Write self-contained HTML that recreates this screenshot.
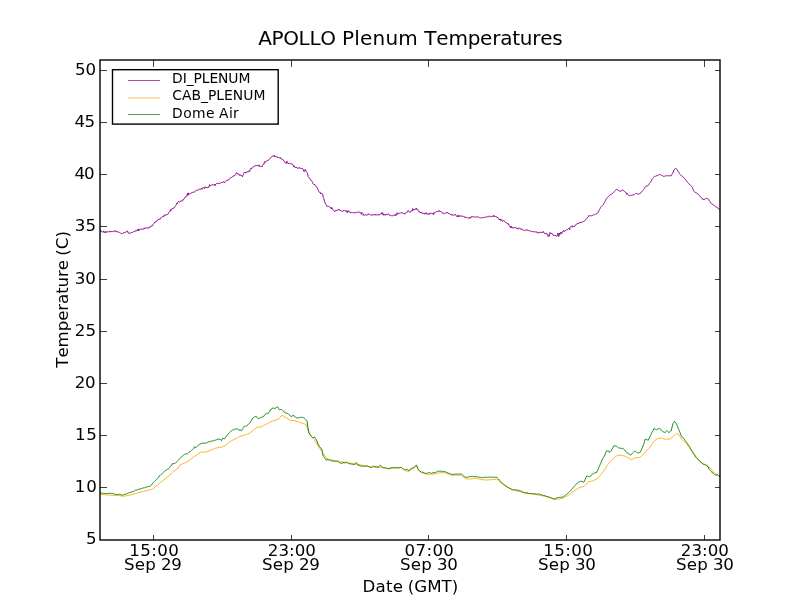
<!DOCTYPE html>
<html lang="en"><head><meta charset="utf-8"><title>APOLLO Plenum Temperatures</title>
<style>html,body{margin:0;padding:0;background:#fff;overflow:hidden}body{width:800px;height:600px}</style>
</head><body>
<svg width="800" height="600" viewBox="0 0 800 600" style="display:block">
<rect x="0" y="0" width="800" height="600" fill="#ffffff"/>
<defs><clipPath id="c"><rect x="100" y="60" width="620" height="480"/></clipPath></defs>
<g fill="none" stroke-linejoin="round" stroke-linecap="butt" clip-path="url(#c)">
<path d="M100.0 231.40 L100.4 231.40 L100.8 230.36 L101.2 231.40 L101.7 231.40 L102.1 231.92 L102.5 231.92 L102.9 232.44 L103.3 231.92 L103.8 230.88 L104.2 231.92 L104.6 232.44 L105.0 232.44 L105.4 232.96 L105.8 231.40 L106.2 232.44 L106.7 231.92 L107.1 231.40 L107.5 231.92 L107.9 231.92 L108.3 231.92 L108.8 231.92 L109.2 231.92 L109.6 231.40 L110.0 230.88 L110.4 231.92 L110.8 231.92 L111.2 231.92 L111.6 231.40 L112.0 231.92 L112.4 231.40 L112.8 231.40 L113.2 231.92 L113.6 231.92 L114.0 231.40 L114.4 230.88 L114.8 230.36 L115.2 231.40 L115.6 231.40 L116.0 231.40 L116.4 230.88 L116.8 231.92 L117.2 231.92 L117.6 231.92 L118.0 231.92 L118.4 231.92 L118.8 231.92 L119.2 232.44 L119.6 232.44 L120.0 232.96 L120.4 232.96 L120.9 233.48 L121.3 233.48 L121.7 233.48 L122.1 233.48 L122.5 232.96 L122.9 233.48 L123.3 232.96 L123.8 232.44 L124.2 232.96 L124.6 232.96 L125.0 232.44 L125.5 232.44 L125.9 231.92 L126.3 231.40 L126.7 231.40 L127.1 231.40 L127.5 230.88 L127.8 231.92 L128.2 232.96 L128.6 232.96 L129.0 233.48 L129.4 232.96 L129.8 232.96 L130.2 233.48 L130.6 232.96 L130.9 232.96 L131.3 232.44 L131.7 232.96 L132.1 232.44 L132.5 232.44 L132.9 232.44 L133.3 231.92 L133.8 231.40 L134.2 231.40 L134.6 231.92 L135.0 230.88 L135.4 230.88 L135.8 230.88 L136.2 230.88 L136.7 230.88 L137.1 229.84 L137.5 230.36 L137.9 230.36 L138.3 228.80 L138.7 230.88 L139.1 229.84 L139.5 229.84 L139.9 229.84 L140.3 229.32 L140.7 228.80 L141.0 229.32 L141.4 228.80 L141.8 229.32 L142.2 229.32 L142.6 229.32 L143.0 229.32 L143.4 229.32 L143.8 228.80 L144.2 227.76 L144.6 228.80 L145.0 228.28 L145.4 228.28 L145.8 228.28 L146.2 227.76 L146.6 227.76 L147.0 228.28 L147.4 227.76 L147.7 227.76 L148.1 227.76 L148.5 228.28 L148.9 227.24 L149.3 227.24 L149.7 226.72 L150.1 227.24 L150.5 227.24 L150.9 226.20 L151.3 225.68 L151.7 226.20 L152.1 225.68 L152.6 225.68 L153.0 224.64 L153.4 224.12 L153.8 223.60 L154.2 222.56 L154.6 222.56 L155.1 222.56 L155.5 222.04 L155.9 222.04 L156.3 221.00 L156.7 221.00 L157.1 221.00 L157.5 220.48 L158.0 219.44 L158.4 219.44 L158.8 218.92 L159.2 218.92 L159.6 219.44 L160.0 219.44 L160.4 218.92 L160.8 217.88 L161.3 217.36 L161.7 217.36 L162.1 216.84 L162.5 216.84 L162.9 216.32 L163.3 216.84 L163.7 216.84 L164.1 215.28 L164.5 215.80 L164.9 214.76 L165.3 214.76 L165.7 215.28 L166.0 215.28 L166.4 214.76 L166.8 214.24 L167.2 214.76 L167.6 214.24 L168.0 214.24 L168.4 213.72 L168.8 212.68 L169.2 212.16 L169.6 211.64 L170.0 211.64 L170.5 209.56 L170.9 210.60 L171.3 210.08 L171.7 209.56 L172.1 209.04 L172.5 208.00 L172.9 208.52 L173.3 208.00 L173.8 208.00 L174.2 208.00 L174.6 207.48 L175.0 206.44 L175.4 205.92 L175.8 205.40 L176.2 204.88 L176.6 203.32 L176.9 203.32 L177.3 203.84 L177.7 202.28 L178.1 201.76 L178.5 201.24 L178.9 201.76 L179.3 202.28 L179.7 201.76 L180.1 201.76 L180.5 201.76 L180.9 200.72 L181.4 200.72 L181.8 201.24 L182.2 200.72 L182.6 200.20 L183.0 199.68 L183.4 200.20 L183.8 199.16 L184.2 198.64 L184.6 197.60 L185.0 197.08 L185.4 197.08 L185.9 197.08 L186.3 196.04 L186.7 195.52 L187.1 195.00 L187.5 193.44 L187.9 195.52 L188.3 192.92 L188.7 194.48 L189.1 193.96 L189.5 193.96 L189.9 193.44 L190.3 193.44 L190.7 193.44 L191.0 192.92 L191.4 192.92 L191.8 192.92 L192.2 192.40 L192.6 192.40 L193.0 192.40 L193.4 191.88 L193.8 191.88 L194.2 192.40 L194.6 191.88 L195.0 191.36 L195.5 190.84 L195.9 190.32 L196.3 190.32 L196.7 190.32 L197.1 190.32 L197.5 189.80 L197.9 190.32 L198.3 189.80 L198.8 189.28 L199.2 189.28 L199.6 189.28 L200.0 189.28 L200.4 189.28 L200.8 188.76 L201.2 189.28 L201.6 188.24 L202.0 189.28 L202.4 188.24 L202.8 187.72 L203.2 187.72 L203.6 187.20 L204.0 187.72 L204.4 188.76 L204.8 187.72 L205.2 186.68 L205.6 187.20 L206.0 187.20 L206.4 187.72 L206.8 187.20 L207.2 187.72 L207.6 187.20 L208.0 187.72 L208.4 186.68 L208.8 187.20 L209.2 186.16 L209.6 184.60 L210.0 185.64 L210.4 185.64 L210.8 185.64 L211.2 185.12 L211.6 185.12 L212.0 185.12 L212.4 184.60 L212.8 184.60 L213.2 184.60 L213.6 185.12 L214.0 185.12 L214.4 185.12 L214.8 184.08 L215.2 185.64 L215.6 184.60 L216.0 184.08 L216.4 183.56 L216.8 183.56 L217.2 183.04 L217.6 183.04 L218.0 183.56 L218.4 183.56 L218.8 183.04 L219.2 183.56 L219.6 183.04 L220.0 183.04 L220.4 183.04 L220.8 183.04 L221.2 182.52 L221.6 182.52 L222.0 182.52 L222.4 182.52 L222.8 182.52 L223.2 182.00 L223.6 181.48 L224.0 182.52 L224.5 182.52 L225.0 182.52 L225.4 181.48 L225.8 180.96 L226.2 180.44 L226.7 180.44 L227.1 180.44 L227.5 179.92 L227.9 180.44 L228.3 179.40 L228.8 179.40 L229.2 179.40 L229.6 178.88 L230.0 178.36 L230.4 177.84 L230.8 177.84 L231.1 177.84 L231.5 177.32 L231.9 177.32 L232.3 176.80 L232.7 176.28 L233.0 176.28 L233.4 176.28 L233.8 176.28 L234.2 175.24 L234.6 175.76 L235.0 175.24 L235.3 174.72 L235.7 174.20 L236.1 173.68 L236.5 172.64 L236.9 173.16 L237.3 173.68 L237.7 173.16 L238.0 174.20 L238.4 174.20 L238.8 174.20 L239.2 174.72 L239.6 174.72 L240.0 175.76 L240.4 174.72 L240.9 175.24 L241.3 175.24 L241.7 175.76 L242.1 176.28 L242.5 176.80 L242.9 175.24 L243.3 174.72 L243.6 173.68 L244.0 173.16 L244.4 172.12 L244.8 172.64 L245.2 172.12 L245.6 172.12 L246.0 173.16 L246.4 172.64 L246.8 172.12 L247.2 171.60 L247.6 172.12 L248.0 172.12 L248.4 171.08 L248.8 171.08 L249.2 171.08 L249.6 171.60 L250.0 170.04 L250.4 169.00 L250.8 168.48 L251.2 169.00 L251.6 168.48 L252.0 168.48 L252.4 167.44 L252.8 166.92 L253.2 166.92 L253.6 166.92 L254.0 166.40 L254.4 165.88 L254.8 165.88 L255.2 165.88 L255.6 165.88 L255.9 165.36 L256.3 165.36 L256.7 165.88 L257.1 165.36 L257.5 165.88 L257.9 165.88 L258.3 165.88 L258.8 165.88 L259.2 164.84 L259.6 166.40 L260.0 166.40 L260.4 166.40 L260.8 166.40 L261.2 166.40 L261.7 166.40 L262.1 166.92 L262.5 165.36 L262.9 164.84 L263.3 164.32 L263.8 164.32 L264.2 162.76 L264.6 163.28 L265.0 161.20 L265.4 161.72 L265.8 161.72 L266.1 161.20 L266.5 161.20 L266.9 160.68 L267.3 160.68 L267.7 160.16 L268.0 160.16 L268.4 160.16 L268.8 160.16 L269.2 159.64 L269.6 159.12 L270.0 158.60 L270.4 158.08 L270.7 157.56 L271.1 157.56 L271.5 157.04 L271.9 156.52 L272.3 156.00 L272.7 156.00 L273.1 156.00 L273.6 156.00 L274.0 156.00 L274.4 155.48 L274.8 157.04 L275.2 156.52 L275.5 157.04 L275.9 156.52 L276.3 157.04 L276.7 157.04 L277.1 157.04 L277.6 157.04 L278.0 157.04 L278.4 157.56 L278.8 157.56 L279.2 158.08 L279.6 158.08 L280.0 157.56 L280.4 158.60 L280.7 158.08 L281.1 158.08 L281.5 158.60 L281.9 159.12 L282.3 159.64 L282.7 159.12 L283.1 160.16 L283.5 160.68 L284.0 160.68 L284.4 161.20 L284.8 162.24 L285.2 162.76 L285.6 163.28 L286.0 163.28 L286.4 163.28 L286.9 161.20 L287.3 162.76 L287.7 163.28 L288.1 163.28 L288.5 163.80 L288.9 163.28 L289.3 163.28 L289.7 163.28 L290.1 163.28 L290.5 163.80 L290.9 163.80 L291.3 163.80 L291.7 163.80 L292.1 163.80 L292.5 164.84 L292.9 164.84 L293.4 165.36 L293.8 166.92 L294.2 165.88 L294.6 166.92 L295.0 167.44 L295.4 167.96 L295.8 167.44 L296.1 167.96 L296.5 167.44 L296.9 167.96 L297.3 167.96 L297.7 167.96 L298.0 168.48 L298.4 167.96 L298.8 167.96 L299.2 167.44 L299.6 167.44 L300.0 168.48 L300.4 169.00 L300.9 168.48 L301.3 168.48 L301.7 168.48 L302.1 168.48 L302.5 168.48 L302.9 169.52 L303.3 169.52 L303.6 170.04 L304.0 171.60 L304.4 170.04 L304.8 170.04 L305.2 170.56 L305.5 169.52 L305.9 170.56 L306.3 171.60 L306.7 172.12 L307.1 172.64 L307.6 173.68 L308.0 176.28 L308.4 176.80 L308.8 177.32 L309.2 177.84 L309.6 178.36 L310.1 178.88 L310.5 179.92 L310.9 180.44 L311.3 180.44 L311.7 180.96 L312.1 181.48 L312.5 182.52 L312.9 183.56 L313.4 184.08 L313.8 184.08 L314.2 184.60 L314.6 184.08 L315.0 185.12 L315.4 185.64 L315.8 186.16 L316.2 186.68 L316.7 186.68 L317.1 187.72 L317.5 188.24 L317.9 189.28 L318.3 190.32 L318.8 191.36 L319.2 191.88 L319.6 192.40 L320.0 191.88 L320.4 192.92 L320.8 193.96 L321.2 193.44 L321.7 193.44 L322.1 193.96 L322.5 193.96 L322.9 195.00 L323.3 197.60 L323.8 198.64 L324.2 200.20 L324.6 201.24 L325.0 202.80 L325.5 203.84 L325.9 204.36 L326.4 205.40 L326.9 206.44 L327.3 206.44 L327.7 205.92 L328.1 205.92 L328.5 206.44 L328.9 206.44 L329.3 206.96 L329.7 206.96 L330.1 207.48 L330.5 207.48 L330.9 207.48 L331.3 209.04 L331.7 207.48 L332.1 208.52 L332.5 208.52 L332.9 209.56 L333.4 210.08 L333.8 210.60 L334.2 211.12 L334.6 211.64 L335.0 211.64 L335.4 210.60 L335.8 210.08 L336.1 210.60 L336.5 210.60 L336.9 210.08 L337.3 210.60 L337.7 210.08 L338.0 209.56 L338.4 210.08 L338.8 209.56 L339.2 209.04 L339.6 210.08 L340.0 210.60 L340.4 210.60 L340.9 210.60 L341.3 211.12 L341.7 211.12 L342.1 211.12 L342.5 211.12 L342.9 211.12 L343.3 211.12 L343.6 210.60 L344.0 210.60 L344.4 211.12 L344.8 210.60 L345.2 211.12 L345.5 211.12 L345.9 210.60 L346.3 210.60 L346.7 210.60 L347.1 212.68 L347.6 211.12 L348.0 211.12 L348.4 211.64 L348.8 210.60 L349.2 211.64 L349.6 212.16 L350.1 212.16 L350.5 213.20 L350.9 212.68 L351.3 212.16 L351.7 212.16 L352.1 212.68 L352.6 212.16 L353.0 212.68 L353.4 212.68 L353.8 213.20 L354.2 212.68 L354.6 212.68 L355.1 212.68 L355.5 212.16 L355.9 212.68 L356.3 212.68 L356.7 212.68 L357.1 212.16 L357.6 212.16 L358.0 212.16 L358.4 212.16 L358.8 211.64 L359.2 212.16 L359.6 212.68 L360.1 212.68 L360.5 212.68 L360.9 212.68 L361.3 214.24 L361.7 212.68 L362.1 212.68 L362.5 213.20 L362.9 213.72 L363.3 215.28 L363.6 214.76 L364.0 215.28 L364.4 215.28 L364.8 214.76 L365.2 214.76 L365.6 214.76 L366.0 214.76 L366.4 215.28 L366.8 215.28 L367.2 214.76 L367.6 214.76 L368.0 214.76 L368.4 213.72 L368.8 214.24 L369.2 214.24 L369.6 214.24 L370.0 214.76 L370.4 214.76 L370.8 214.76 L371.2 215.28 L371.6 215.28 L372.0 214.76 L372.4 214.76 L372.8 214.76 L373.1 215.28 L373.5 214.76 L373.9 214.24 L374.3 214.76 L374.7 214.76 L375.1 214.76 L375.5 214.24 L375.9 215.28 L376.3 214.76 L376.7 214.76 L377.1 214.76 L377.6 214.76 L378.0 214.76 L378.4 214.76 L378.8 214.24 L379.2 215.28 L379.6 214.76 L380.1 214.24 L380.5 213.72 L380.9 213.72 L381.3 213.72 L381.7 212.68 L382.1 214.24 L382.6 212.68 L383.0 214.76 L383.4 214.24 L383.8 215.28 L384.2 215.28 L384.6 214.76 L385.1 214.24 L385.5 215.28 L385.9 214.24 L386.3 214.24 L386.7 214.24 L387.1 214.76 L387.6 214.76 L388.0 214.76 L388.4 213.72 L388.8 214.24 L389.2 214.76 L389.6 215.28 L390.1 215.80 L390.5 215.28 L390.9 215.28 L391.3 215.80 L391.7 215.80 L392.1 215.80 L392.6 215.80 L393.0 215.80 L393.4 215.28 L393.8 215.28 L394.2 215.28 L394.6 215.28 L395.1 214.24 L395.5 215.80 L395.9 215.28 L396.3 215.28 L396.7 214.24 L397.1 212.68 L397.6 214.24 L398.0 213.72 L398.4 213.72 L398.8 213.72 L399.2 213.20 L399.6 213.20 L400.1 213.20 L400.5 213.20 L400.9 212.68 L401.3 212.68 L401.7 212.68 L402.1 212.68 L402.5 212.68 L402.9 213.20 L403.4 213.72 L403.8 213.20 L404.2 213.72 L404.6 214.24 L405.0 213.20 L405.4 213.20 L405.8 213.20 L406.2 213.20 L406.7 212.68 L407.1 212.16 L407.5 211.12 L407.9 211.12 L408.3 210.60 L408.8 211.64 L409.2 212.16 L409.6 212.16 L410.0 212.16 L410.4 212.16 L410.8 211.12 L411.2 211.12 L411.7 210.60 L412.1 211.12 L412.5 210.08 L412.9 208.52 L413.3 210.08 L413.8 210.08 L414.2 210.08 L414.6 209.56 L415.0 209.56 L415.4 209.56 L415.8 209.04 L416.2 208.00 L416.7 209.56 L417.1 209.56 L417.5 209.56 L417.9 209.56 L418.3 211.12 L418.8 211.64 L419.2 212.16 L419.6 211.64 L420.0 212.68 L420.4 212.16 L420.8 212.68 L421.1 212.16 L421.5 212.68 L421.9 212.68 L422.3 213.72 L422.7 213.20 L423.0 213.20 L423.4 213.20 L423.8 213.20 L424.2 213.20 L424.6 214.24 L425.0 213.20 L425.4 213.20 L425.8 213.20 L426.1 212.68 L426.5 214.24 L426.9 213.72 L427.3 213.72 L427.7 214.24 L428.1 214.24 L428.5 214.24 L428.9 214.24 L429.3 213.20 L429.7 214.24 L430.1 213.20 L430.5 213.72 L430.9 213.20 L431.3 213.20 L431.7 213.20 L432.1 213.72 L432.5 213.72 L432.9 213.20 L433.3 214.24 L433.6 214.76 L434.0 212.68 L434.4 213.20 L434.8 212.68 L435.2 212.16 L435.5 212.16 L435.9 212.16 L436.3 211.64 L436.7 211.64 L437.1 211.12 L437.5 211.64 L437.9 211.12 L438.4 211.64 L438.8 210.60 L439.2 211.12 L439.6 211.12 L440.0 211.12 L440.4 211.64 L440.8 211.12 L441.2 211.64 L441.6 212.16 L441.9 212.16 L442.3 213.20 L442.7 213.20 L443.1 213.72 L443.5 213.72 L443.9 213.20 L444.4 213.20 L444.8 213.20 L445.2 213.20 L445.6 213.20 L446.0 212.68 L446.4 212.68 L446.9 213.20 L447.3 212.16 L447.7 212.68 L448.1 213.20 L448.5 213.20 L448.9 213.72 L449.3 213.20 L449.7 213.72 L450.1 214.24 L450.5 214.76 L450.9 214.24 L451.3 214.24 L451.7 215.28 L452.1 214.76 L452.6 214.76 L453.0 215.28 L453.4 215.28 L453.8 215.28 L454.2 214.76 L454.6 214.76 L455.1 214.76 L455.5 214.24 L455.9 215.28 L456.3 215.80 L456.7 216.32 L457.1 215.80 L457.6 216.84 L458.0 215.28 L458.4 215.28 L458.8 216.84 L459.2 215.80 L459.6 215.80 L460.1 215.80 L460.5 215.80 L460.9 216.32 L461.3 215.80 L461.7 216.32 L462.1 215.80 L462.5 216.32 L462.9 216.32 L463.4 216.32 L463.8 216.84 L464.2 216.84 L464.6 216.84 L465.0 217.88 L465.4 217.36 L465.8 216.84 L466.2 217.36 L466.6 217.36 L467.0 217.88 L467.4 217.88 L467.8 217.88 L468.2 217.88 L468.6 217.88 L469.0 218.40 L469.4 217.88 L469.8 217.36 L470.2 218.40 L470.6 217.36 L471.0 217.36 L471.4 217.36 L471.8 216.32 L472.2 216.84 L472.6 216.84 L473.0 216.84 L473.4 216.84 L473.8 216.84 L474.2 216.84 L474.6 216.84 L475.1 216.84 L475.5 217.36 L475.9 216.84 L476.3 216.84 L476.7 216.84 L477.1 216.84 L477.6 216.84 L478.0 216.84 L478.4 216.84 L478.8 217.36 L479.2 217.36 L479.6 217.88 L480.1 217.88 L480.5 217.88 L480.9 217.88 L481.3 217.88 L481.7 217.88 L482.1 217.36 L482.6 217.88 L483.0 217.88 L483.4 217.36 L483.8 217.36 L484.2 217.88 L484.6 217.36 L485.0 216.84 L485.4 216.84 L485.8 217.36 L486.1 217.36 L486.5 217.36 L486.9 216.84 L487.3 216.32 L487.7 216.32 L488.1 216.84 L488.5 216.84 L488.9 216.32 L489.3 215.80 L489.7 216.32 L490.1 216.84 L490.5 216.84 L490.9 216.32 L491.3 216.84 L491.8 216.84 L492.2 216.32 L492.6 216.32 L493.0 215.80 L493.4 216.32 L493.8 215.28 L494.2 216.84 L494.6 216.32 L495.0 216.84 L495.4 216.32 L495.8 216.32 L496.2 216.84 L496.6 216.84 L496.9 216.84 L497.3 217.88 L497.7 217.36 L498.1 217.88 L498.5 218.40 L498.9 219.44 L499.3 219.44 L499.7 219.96 L500.1 218.92 L500.5 220.48 L500.9 219.44 L501.3 219.44 L501.7 220.48 L502.1 220.48 L502.5 221.52 L502.9 221.00 L503.3 221.00 L503.8 220.48 L504.2 221.00 L504.6 221.52 L505.0 222.04 L505.4 222.56 L505.8 222.56 L506.2 222.56 L506.7 223.08 L507.1 223.08 L507.5 223.60 L507.9 223.08 L508.3 224.64 L508.7 224.64 L509.1 224.64 L509.4 225.68 L509.8 226.20 L510.2 227.24 L510.6 227.76 L511.0 226.20 L511.4 227.76 L511.8 226.72 L512.2 227.76 L512.6 227.76 L513.0 228.28 L513.4 227.76 L513.8 227.76 L514.2 227.76 L514.6 227.76 L515.0 227.24 L515.4 227.76 L515.8 227.76 L516.2 228.28 L516.7 228.28 L517.1 227.76 L517.5 228.80 L517.9 228.80 L518.3 229.32 L518.8 228.80 L519.2 228.28 L519.6 227.76 L520.0 228.80 L520.4 228.80 L520.8 229.32 L521.3 229.32 L521.7 228.80 L522.1 229.32 L522.5 229.84 L523.0 229.84 L523.4 229.84 L523.8 230.36 L524.2 230.36 L524.6 230.36 L525.0 230.36 L525.5 230.36 L525.9 230.36 L526.3 229.84 L526.7 229.32 L527.1 230.36 L527.5 230.36 L528.0 230.36 L528.4 230.36 L528.8 230.88 L529.2 230.88 L529.6 230.88 L530.0 230.88 L530.5 230.88 L530.9 230.88 L531.3 231.40 L531.7 231.40 L532.1 231.92 L532.5 231.40 L533.0 231.92 L533.4 231.92 L533.8 231.92 L534.2 231.92 L534.6 231.40 L535.0 231.40 L535.5 231.92 L535.9 232.44 L536.3 231.92 L536.7 231.92 L537.1 231.92 L537.5 232.96 L538.0 232.96 L538.4 232.96 L538.8 232.96 L539.2 232.96 L539.6 231.92 L540.0 232.44 L540.4 232.44 L540.9 231.92 L541.3 232.44 L541.7 232.44 L542.1 232.96 L542.5 232.44 L542.9 232.44 L543.3 231.40 L543.8 232.44 L544.2 232.96 L544.6 233.48 L545.0 234.00 L545.5 233.48 L545.9 232.96 L546.3 232.96 L546.7 233.48 L547.0 234.00 L547.4 235.04 L547.8 234.52 L548.2 236.60 L548.5 235.56 L548.9 236.08 L549.3 236.08 L549.6 234.52 L550.0 232.44 L550.4 233.48 L550.8 233.48 L551.3 233.48 L551.7 232.96 L552.1 234.00 L552.5 234.52 L553.0 234.52 L553.4 235.56 L553.8 235.04 L554.2 235.56 L554.6 235.56 L554.9 235.56 L555.3 235.56 L555.7 235.56 L556.1 236.08 L556.4 236.08 L556.8 236.08 L557.2 236.08 L557.6 234.52 L558.0 232.96 L558.4 235.56 L558.8 236.60 L559.1 235.04 L559.5 232.96 L559.9 234.52 L560.2 232.96 L560.6 232.44 L561.0 233.48 L561.4 232.44 L561.8 233.48 L562.1 231.92 L562.5 231.92 L562.9 231.40 L563.3 231.40 L563.8 230.36 L564.2 231.40 L564.6 231.40 L565.0 230.88 L565.4 230.88 L565.8 230.36 L566.2 229.84 L566.7 229.84 L567.1 229.84 L567.5 229.32 L567.9 229.32 L568.3 228.80 L568.8 228.28 L569.2 228.28 L569.6 229.84 L570.0 227.76 L570.5 226.72 L570.9 226.72 L571.3 226.72 L571.7 226.20 L572.1 225.68 L572.5 227.24 L573.0 226.72 L573.4 226.20 L573.8 226.20 L574.2 226.20 L574.6 226.72 L575.0 225.68 L575.5 225.16 L575.9 225.16 L576.3 224.12 L576.7 224.12 L577.1 223.60 L577.5 223.60 L578.0 223.08 L578.4 223.60 L578.8 223.08 L579.2 223.08 L579.6 222.56 L580.0 222.56 L580.5 223.08 L580.9 222.04 L581.3 222.04 L581.7 222.56 L582.1 222.04 L582.5 221.52 L582.9 221.52 L583.4 221.52 L583.8 221.52 L584.2 221.00 L584.6 221.00 L585.0 220.48 L585.4 219.96 L585.8 219.44 L586.3 218.92 L586.7 218.40 L587.1 218.40 L587.5 217.36 L588.0 216.84 L588.4 216.84 L588.8 215.80 L589.0 215.28 L589.5 215.80 L590.0 215.80 L590.4 215.80 L590.8 215.80 L591.3 215.80 L591.7 215.80 L592.1 215.80 L592.5 215.28 L593.0 215.28 L593.4 214.76 L593.8 214.76 L594.2 214.76 L594.6 214.76 L595.0 214.24 L595.4 214.24 L595.9 213.72 L596.3 213.72 L596.7 213.72 L597.1 213.20 L597.5 213.20 L597.9 212.68 L598.3 211.64 L598.7 211.64 L599.0 210.60 L599.4 209.56 L599.8 209.04 L600.2 208.52 L600.6 207.48 L601.0 206.96 L601.4 206.44 L601.9 205.92 L602.3 205.92 L602.7 205.40 L603.1 204.88 L603.5 204.36 L603.9 203.32 L604.3 202.80 L604.7 201.76 L605.1 201.24 L605.5 200.72 L605.9 199.68 L606.3 198.64 L606.7 198.64 L607.1 198.12 L607.5 197.60 L607.8 197.08 L608.2 196.56 L608.6 196.56 L609.0 196.04 L609.4 195.52 L609.8 195.00 L610.2 195.00 L610.6 194.48 L611.0 194.48 L611.3 194.48 L611.7 193.96 L612.1 193.44 L612.5 193.44 L612.9 192.92 L613.3 192.40 L613.8 192.40 L614.2 191.88 L614.6 191.36 L615.0 190.84 L615.5 190.32 L615.9 189.80 L616.3 189.28 L616.7 189.28 L617.1 189.80 L617.5 189.80 L617.9 190.32 L618.4 190.32 L618.8 190.84 L619.2 190.84 L619.6 190.84 L620.0 191.36 L620.4 191.36 L620.8 190.84 L621.2 190.84 L621.6 190.84 L622.0 190.32 L622.4 189.80 L622.8 189.80 L623.2 190.32 L623.6 190.84 L624.0 190.84 L624.4 191.36 L624.7 191.36 L625.1 191.88 L625.5 192.40 L625.9 192.40 L626.3 192.92 L626.7 194.48 L627.1 193.44 L627.5 193.96 L628.0 194.48 L628.4 195.00 L628.8 195.52 L629.2 195.52 L629.6 195.52 L630.0 195.52 L630.4 195.52 L630.9 195.52 L631.3 195.52 L631.7 195.00 L632.1 195.00 L632.5 195.00 L632.9 195.00 L633.3 195.00 L633.8 195.00 L634.2 194.48 L634.6 194.48 L635.0 193.96 L635.5 193.44 L635.9 193.44 L636.3 193.44 L636.7 193.44 L637.1 193.96 L637.5 193.96 L637.8 193.96 L638.2 193.96 L638.6 193.96 L639.0 193.96 L639.4 193.96 L639.8 193.96 L640.2 193.44 L640.6 192.92 L641.0 192.40 L641.3 191.88 L641.7 191.88 L642.1 191.36 L642.5 190.84 L642.9 190.32 L643.3 189.80 L643.8 189.28 L644.2 188.76 L644.6 187.72 L645.0 187.20 L645.4 186.68 L645.8 186.68 L646.2 186.16 L646.5 186.16 L646.9 186.16 L647.3 186.16 L647.7 185.64 L648.1 185.64 L648.5 185.12 L648.9 184.60 L649.3 183.56 L649.7 183.04 L650.1 182.52 L650.5 182.00 L650.9 181.48 L651.3 180.96 L651.7 179.92 L652.1 179.40 L652.5 178.88 L652.8 178.36 L653.2 177.84 L653.6 177.32 L654.0 176.80 L654.4 176.28 L654.8 176.28 L655.2 176.28 L655.6 176.28 L656.1 175.76 L656.5 175.76 L656.9 175.76 L657.3 175.76 L657.7 175.24 L658.1 175.24 L658.5 174.72 L658.8 174.72 L659.2 174.72 L659.6 174.72 L660.0 174.72 L660.4 174.72 L660.8 174.72 L661.3 175.24 L661.7 175.24 L662.1 175.76 L662.5 175.76 L663.0 176.28 L663.4 176.28 L663.8 176.28 L664.2 176.28 L664.6 176.28 L665.0 176.28 L665.4 175.76 L665.9 175.76 L666.3 175.76 L666.7 175.76 L667.1 175.76 L667.5 175.76 L667.9 175.76 L668.3 175.76 L668.8 175.76 L669.2 175.76 L669.6 175.76 L670.0 175.76 L670.5 175.76 L670.9 175.76 L671.3 175.76 L671.7 174.72 L672.1 174.20 L672.5 173.16 L673.0 172.12 L673.4 172.12 L673.8 170.04 L674.2 169.52 L674.5 169.52 L674.9 169.00 L675.2 168.48 L675.6 168.48 L676.0 168.48 L676.4 169.00 L676.7 169.52 L677.1 170.04 L677.5 170.04 L677.9 171.08 L678.3 171.60 L678.8 172.12 L679.2 173.16 L679.6 173.68 L680.0 174.20 L680.4 174.72 L680.8 175.24 L681.2 175.24 L681.5 175.76 L681.9 175.76 L682.3 176.28 L682.7 176.80 L683.1 176.80 L683.5 177.32 L683.9 177.84 L684.4 178.36 L684.8 178.88 L685.2 179.40 L685.6 179.92 L686.1 180.44 L686.5 180.96 L686.9 181.48 L687.3 182.00 L687.7 182.52 L688.1 183.04 L688.5 183.56 L688.8 183.56 L689.2 184.08 L689.6 184.60 L690.0 184.60 L690.4 185.12 L690.8 185.64 L691.2 186.16 L691.7 186.68 L692.1 187.20 L692.5 187.72 L692.9 188.76 L693.2 189.80 L693.6 190.32 L694.0 191.36 L694.4 191.88 L694.8 191.88 L695.1 192.40 L695.5 192.40 L695.9 192.92 L696.2 192.92 L696.6 192.92 L697.0 193.44 L697.4 193.96 L697.8 193.96 L698.2 194.48 L698.6 194.48 L699.0 195.00 L699.4 195.52 L699.8 196.04 L700.2 196.56 L700.6 197.08 L701.0 197.08 L701.4 197.60 L701.8 198.12 L702.1 198.12 L702.5 198.64 L702.9 199.68 L703.2 199.16 L703.6 199.16 L704.0 199.68 L704.4 199.68 L704.8 199.16 L705.2 198.64 L705.7 198.64 L706.1 198.64 L706.5 198.12 L706.9 198.12 L707.3 198.64 L707.7 198.64 L708.1 199.16 L708.5 199.16 L708.9 199.68 L709.3 200.72 L709.7 201.24 L710.1 201.76 L710.5 202.80 L710.9 202.80 L711.3 203.32 L711.7 203.84 L712.1 204.36 L712.4 204.36 L712.8 204.36 L713.2 204.88 L713.6 204.88 L714.0 205.40 L714.4 205.40 L714.8 205.92 L715.2 206.44 L715.6 206.44 L716.0 206.96 L716.4 206.96 L716.8 207.48 L717.2 207.48 L717.6 208.00 L718.0 208.00 L718.4 208.52 L718.8 209.04 L719.2 209.04 L719.6 209.56 L720.0 210.60" stroke="#8b008b" stroke-width="0.95"/>
<path d="M100.0 494.60 L101.5 494.64 L103.0 494.68 L104.5 494.72 L106.0 494.76 L107.5 494.80 L109.2 495.00 L110.8 495.20 L112.5 495.40 L114.1 495.40 L115.7 495.40 L117.2 495.40 L118.8 495.40 L120.7 495.85 L122.5 496.30 L124.1 496.07 L125.7 495.85 L127.2 495.62 L128.8 495.40 L130.2 495.02 L131.7 494.63 L133.2 494.25 L134.6 493.87 L136.1 493.48 L137.5 493.10 L139.0 492.68 L140.4 492.27 L141.9 491.85 L143.4 491.43 L144.8 491.02 L146.3 490.60 L147.9 490.30 L149.4 490.00 L150.9 489.70 L152.5 489.40 L154.1 488.00 L155.7 486.60 L157.2 485.20 L158.8 483.80 L160.4 482.60 L161.9 481.40 L163.4 480.20 L165.0 479.00 L166.7 477.67 L168.3 476.33 L170.0 475.00 L171.3 473.77 L172.5 472.53 L173.8 471.30 L175.2 470.23 L176.7 469.17 L178.1 468.10 L180.0 464.80 L181.6 464.18 L183.2 463.55 L184.7 462.93 L186.3 462.30 L188.2 461.05 L190.0 459.80 L191.7 458.53 L193.3 457.27 L195.0 456.00 L196.4 455.05 L197.8 454.10 L199.1 453.15 L200.5 452.20 L202.0 452.20 L203.5 452.20 L205.0 452.20 L206.7 451.63 L208.3 451.07 L210.0 450.50 L211.5 449.88 L213.0 449.25 L214.5 448.62 L216.0 448.00 L217.7 447.73 L219.3 447.47 L221.0 447.20 L222.3 446.80 L223.7 446.40 L225.0 446.00 L226.7 444.50 L228.3 443.00 L230.0 441.50 L231.7 440.67 L233.3 439.83 L235.0 439.00 L236.3 438.33 L237.7 437.67 L239.0 437.00 L240.0 436.50 L241.7 436.00 L243.3 435.50 L245.0 435.00 L246.5 434.43 L248.0 433.87 L249.5 433.30 L251.0 432.03 L252.5 430.77 L254.0 429.50 L255.5 428.35 L257.0 427.20 L258.3 427.13 L259.7 427.07 L261.0 427.00 L262.7 426.10 L264.3 425.20 L266.0 424.30 L267.5 423.52 L269.0 422.75 L270.5 421.98 L272.0 421.20 L273.6 420.70 L275.2 420.20 L276.9 419.70 L278.5 419.20 L279.8 417.60 L281.0 416.00 L282.5 415.50 L284.2 416.65 L286.0 417.80 L287.7 418.70 L289.3 419.60 L291.0 420.50 L292.8 420.50 L294.5 420.50 L295.9 421.00 L297.2 421.50 L298.6 422.00 L300.0 422.50 L301.5 423.00 L303.0 423.50 L304.5 424.00 L306.0 424.50 L307.5 428.50 L309.5 434.50 L311.0 436.17 L312.5 437.83 L314.0 439.50 L315.5 441.75 L317.0 444.00 L318.5 446.35 L320.0 448.70 L320.5 449.30 L322.1 451.85 L323.8 454.40 L325.4 456.70 L326.9 459.00 L328.3 459.28 L329.7 459.56 L331.0 459.84 L332.4 460.12 L333.8 460.40 L335.4 460.62 L336.9 460.85 L338.4 461.07 L340.0 461.30 L341.6 461.60 L343.1 461.90 L344.7 462.20 L346.3 462.50 L347.9 462.75 L349.4 463.00 L350.9 463.25 L352.5 463.50 L354.1 463.73 L355.6 463.95 L357.2 464.17 L358.8 464.40 L360.4 464.80 L361.9 465.20 L363.4 465.60 L365.0 466.00 L366.6 466.27 L368.1 466.55 L369.7 466.83 L371.3 467.10 L372.9 467.15 L374.4 467.20 L375.9 467.25 L377.5 467.30 L379.1 467.45 L380.6 467.60 L382.2 467.75 L383.8 467.90 L385.5 468.27 L387.1 468.63 L388.8 469.00 L390.5 468.70 L392.1 468.40 L393.8 468.10 L395.3 467.98 L396.8 467.86 L398.3 467.74 L399.8 467.62 L401.3 467.50 L403.1 469.05 L405.0 470.60 L406.6 470.95 L408.1 471.30 L409.6 470.47 L411.0 469.63 L412.5 468.80 L413.9 467.97 L415.2 467.13 L416.6 466.30 L418.8 470.60 L420.6 471.85 L422.5 473.10 L424.2 473.53 L425.8 473.97 L427.5 474.40 L429.0 474.32 L430.5 474.24 L432.0 474.16 L433.5 474.08 L435.0 474.00 L436.5 473.60 L437.9 473.20 L439.4 472.80 L440.8 472.73 L442.2 472.65 L443.6 472.57 L445.0 472.50 L446.7 473.33 L448.3 474.17 L450.0 475.00 L451.4 475.04 L452.8 475.07 L454.2 475.11 L455.6 475.15 L457.1 475.19 L458.5 475.23 L459.9 475.26 L461.3 475.30 L462.7 476.47 L464.2 477.63 L465.6 478.80 L467.1 478.87 L468.5 478.93 L470.0 479.00 L471.7 478.70 L473.3 478.40 L475.0 478.10 L476.5 478.44 L478.0 478.78 L479.5 479.12 L481.0 479.46 L482.5 479.80 L484.2 479.87 L485.8 479.93 L487.5 480.00 L489.0 479.88 L490.5 479.76 L492.0 479.64 L493.5 479.52 L495.0 479.40 L496.9 479.40 L498.4 480.63 L499.8 481.87 L501.3 483.10 L503.0 484.37 L504.6 485.63 L506.3 486.90 L507.9 487.67 L509.4 488.45 L510.9 489.23 L512.5 490.00 L514.1 490.32 L515.6 490.65 L517.2 490.98 L518.8 491.30 L520.5 491.80 L522.1 492.30 L523.8 492.80 L525.3 493.04 L526.8 493.28 L528.3 493.52 L529.8 493.76 L531.3 494.00 L532.8 494.20 L534.4 494.40 L536.0 494.60 L537.5 494.80 L539.0 495.10 L540.5 495.40 L542.0 495.70 L543.5 496.00 L545.0 496.30 L546.7 496.80 L548.3 497.30 L550.0 497.80 L551.5 498.40 L552.9 499.00 L554.4 499.60 L555.9 499.43 L557.3 499.27 L558.8 499.10 L560.2 498.77 L561.7 498.43 L563.1 498.10 L564.5 497.33 L566.0 496.55 L567.4 495.77 L568.8 495.00 L570.5 493.67 L572.1 492.33 L573.8 491.00 L575.5 489.97 L577.1 488.93 L578.8 487.90 L580.0 487.70 L581.3 487.23 L582.7 486.77 L584.0 486.30 L585.6 484.67 L587.1 483.03 L588.7 481.40 L590.4 481.35 L592.0 481.30 L593.3 480.65 L594.6 480.00 L596.0 479.35 L597.3 478.70 L598.6 477.10 L600.0 475.50 L601.4 473.90 L602.7 472.30 L604.2 470.05 L605.7 467.80 L607.2 465.55 L608.7 463.30 L610.2 461.63 L611.8 459.97 L613.3 458.30 L614.6 457.33 L616.0 456.37 L617.3 455.40 L618.6 455.38 L620.0 455.35 L621.4 455.32 L622.7 455.30 L624.0 455.87 L625.4 456.43 L626.7 457.00 L628.2 457.90 L629.8 458.80 L631.3 459.70 L632.9 459.03 L634.4 458.37 L636.0 457.70 L637.3 457.57 L638.7 457.43 L640.0 457.30 L641.3 456.10 L642.7 454.90 L644.0 453.70 L645.4 452.00 L646.7 450.30 L648.4 448.80 L650.0 447.30 L651.3 445.30 L652.7 443.30 L654.0 441.30 L655.6 440.00 L657.3 438.70 L658.6 438.47 L660.0 438.23 L661.3 438.00 L662.6 438.43 L664.0 438.87 L665.3 439.30 L666.6 439.23 L668.0 439.15 L669.4 439.07 L670.7 439.00 L672.4 437.15 L674.0 435.30 L675.4 434.50 L676.7 433.70 L678.7 434.70 L680.4 437.00 L682.0 439.30 L683.3 440.73 L684.6 442.15 L686.0 443.57 L687.3 445.00 L688.6 446.75 L690.0 448.50 L691.4 450.25 L692.7 452.00 L694.0 453.77 L695.4 455.53 L696.7 457.30 L698.2 459.00 L699.8 460.70 L701.3 462.40 L702.6 463.27 L704.0 464.13 L705.3 465.00 L707.0 465.85 L708.7 466.70 L710.4 468.35 L712.0 470.00 L713.6 471.85 L715.3 473.70 L716.9 474.53 L718.4 475.37 L720.0 476.20" stroke="#ffa500" stroke-width="0.85"/>
<path d="M100.0 492.96 L100.7 492.96 L101.4 493.22 L102.1 493.22 L102.9 493.22 L103.6 493.48 L104.3 493.48 L105.0 493.48 L105.7 493.48 L106.4 493.74 L107.1 493.48 L107.8 493.48 L108.5 493.48 L109.2 493.48 L109.9 493.22 L110.6 493.22 L111.3 493.48 L112.0 493.48 L112.8 493.74 L113.5 493.22 L114.3 494.26 L115.0 494.26 L115.7 494.26 L116.5 494.52 L117.2 494.52 L117.9 494.52 L118.7 494.26 L119.4 494.26 L120.2 494.52 L121.0 494.78 L121.7 495.04 L122.5 495.30 L123.3 494.78 L124.0 494.52 L124.8 494.26 L125.5 494.26 L126.3 494.00 L127.0 493.74 L127.8 493.22 L128.5 492.96 L129.2 492.70 L129.9 492.44 L130.7 492.18 L131.4 491.92 L132.1 491.66 L132.8 491.66 L133.6 491.40 L134.3 491.14 L135.0 490.36 L135.7 490.10 L136.4 490.10 L137.0 489.84 L137.7 489.58 L138.4 489.32 L139.1 489.06 L139.7 489.06 L140.4 488.80 L141.1 488.54 L141.8 488.54 L142.4 488.28 L143.1 488.02 L143.8 487.76 L144.5 487.76 L145.2 487.50 L145.8 487.24 L146.5 486.98 L147.2 486.98 L147.9 486.72 L148.6 486.46 L149.2 486.46 L149.9 486.46 L150.6 485.94 L151.4 485.16 L152.1 483.86 L152.9 483.08 L153.6 482.30 L154.4 481.52 L155.1 480.74 L155.8 480.22 L156.5 479.44 L157.2 478.66 L157.9 477.62 L158.6 477.10 L159.3 476.06 L160.0 475.54 L160.7 474.76 L161.5 474.24 L162.2 473.46 L162.9 472.94 L163.7 472.16 L164.4 471.38 L165.1 470.86 L165.9 470.08 L166.6 469.82 L167.4 469.30 L168.1 469.04 L168.8 468.52 L169.6 467.48 L170.3 466.44 L171.0 465.40 L171.8 465.40 L172.5 463.58 L173.1 463.58 L173.8 463.58 L174.4 463.58 L175.0 463.58 L175.7 462.80 L176.4 462.02 L177.1 461.50 L177.8 460.72 L178.5 459.94 L179.2 459.16 L179.9 458.38 L180.6 457.60 L181.2 457.08 L181.9 456.56 L182.5 456.04 L183.2 455.52 L183.8 455.00 L184.5 454.48 L185.3 454.22 L186.0 453.96 L186.8 453.70 L187.5 453.70 L188.1 453.18 L188.8 452.40 L189.4 452.14 L190.0 451.88 L190.7 451.10 L191.3 450.58 L192.0 449.80 L192.6 449.54 L193.2 449.02 L193.9 448.24 L194.5 446.68 L195.2 447.46 L195.8 447.46 L196.5 447.20 L197.2 446.42 L197.8 445.64 L198.5 444.86 L199.2 444.34 L199.9 444.34 L200.6 443.82 L201.3 443.56 L202.0 443.30 L202.7 443.04 L203.3 443.30 L204.0 443.30 L204.7 443.04 L205.3 443.04 L206.0 443.04 L206.7 443.04 L207.3 442.52 L208.0 442.00 L208.7 441.74 L209.3 441.74 L210.0 441.48 L210.7 441.22 L211.3 441.22 L212.0 440.96 L212.7 440.96 L213.3 440.70 L214.0 440.70 L214.7 440.18 L215.4 440.18 L216.1 439.92 L216.8 439.66 L217.5 439.40 L218.2 439.14 L219.0 439.14 L219.8 439.40 L220.5 439.40 L221.5 440.70 L222.2 439.14 L222.8 438.10 L223.7 438.62 L224.5 438.88 L225.2 437.84 L226.0 436.80 L226.8 435.50 L227.5 434.72 L228.2 433.94 L229.0 433.16 L229.8 432.38 L230.5 431.60 L231.2 430.82 L231.9 430.56 L232.6 430.04 L233.3 429.78 L234.0 429.52 L234.7 429.26 L235.4 429.26 L236.1 429.00 L236.8 428.74 L237.5 428.74 L238.2 429.52 L239.0 430.30 L240.0 430.04 L240.8 430.30 L241.5 430.82 L242.1 429.52 L242.8 428.74 L243.4 427.44 L244.0 426.40 L244.6 426.40 L245.2 426.14 L245.9 426.14 L246.5 426.14 L247.2 425.36 L247.9 424.84 L248.6 424.06 L249.3 423.28 L250.0 422.76 L250.8 421.46 L251.5 420.16 L252.2 419.12 L253.0 417.82 L253.8 417.30 L254.5 416.78 L255.2 416.52 L256.0 416.26 L256.6 416.78 L257.2 417.30 L257.9 418.34 L258.5 418.60 L259.2 418.34 L260.0 417.82 L260.8 417.82 L261.5 417.30 L262.2 417.04 L262.8 416.78 L263.5 416.78 L264.1 415.74 L264.8 414.70 L265.4 414.44 L266.0 413.66 L266.6 413.66 L267.2 413.40 L267.9 413.14 L268.5 413.14 L269.1 412.10 L269.8 411.06 L270.4 410.02 L271.0 408.98 L271.7 408.98 L272.3 408.46 L273.0 407.94 L273.8 407.94 L274.5 408.72 L275.2 407.94 L276.0 407.94 L276.8 407.42 L277.5 406.64 L278.2 407.68 L278.8 408.72 L279.5 409.76 L280.1 409.50 L280.8 409.50 L281.4 409.50 L282.0 409.76 L282.7 410.54 L283.3 411.06 L284.0 412.10 L284.7 412.36 L285.3 412.88 L286.0 413.14 L286.7 413.14 L287.3 413.40 L288.0 413.92 L288.8 414.44 L289.5 414.96 L290.2 415.74 L291.0 416.52 L291.6 416.52 L292.2 416.00 L292.9 415.74 L293.5 414.96 L294.2 416.26 L294.9 416.78 L295.6 417.04 L296.3 417.82 L297.0 418.08 L297.8 417.82 L298.5 417.82 L299.2 417.82 L300.0 417.56 L300.6 417.30 L301.2 417.30 L301.9 417.30 L302.5 417.30 L303.1 417.56 L303.8 417.82 L304.4 418.34 L305.0 418.60 L305.7 419.38 L306.3 420.16 L307.0 420.94 L308.0 427.96 L309.0 432.90 L310.0 434.72 L310.8 435.24 L311.5 436.54 L312.2 437.06 L313.0 437.84 L313.8 437.32 L314.5 437.06 L315.2 438.10 L315.8 439.14 L316.5 439.92 L317.2 441.74 L317.8 443.30 L318.5 444.86 L319.2 446.16 L320.0 446.94 L320.5 447.98 L321.2 448.76 L321.9 449.28 L322.5 452.40 L323.1 455.78 L323.7 456.56 L324.4 457.60 L325.0 458.64 L325.7 459.42 L326.3 460.46 L326.9 460.20 L327.5 459.16 L328.2 459.68 L328.9 459.94 L329.6 459.94 L330.3 460.46 L331.0 460.46 L331.7 460.72 L332.4 460.98 L333.1 461.24 L333.8 461.24 L334.5 461.24 L335.3 461.24 L336.0 461.24 L336.8 461.24 L337.5 461.50 L338.3 461.76 L339.0 462.54 L339.8 462.80 L340.5 463.06 L341.3 463.32 L342.0 463.32 L342.7 463.32 L343.4 462.02 L344.2 463.06 L344.9 462.80 L345.6 462.54 L346.3 462.28 L347.0 462.54 L347.7 463.06 L348.4 463.32 L349.2 463.58 L349.9 463.84 L350.6 463.84 L351.3 464.10 L352.0 464.10 L352.8 464.36 L353.5 464.36 L354.3 464.36 L355.0 464.36 L355.6 463.32 L356.3 462.54 L356.9 463.58 L357.5 464.10 L358.1 465.40 L358.8 465.40 L359.6 465.40 L360.3 466.18 L361.0 465.92 L361.8 466.18 L362.5 466.18 L363.2 466.18 L363.9 466.18 L364.6 465.92 L365.4 466.18 L366.1 466.18 L366.8 465.92 L367.5 465.92 L368.3 466.44 L369.0 466.70 L369.8 466.96 L370.5 467.22 L371.3 467.48 L371.9 467.22 L372.6 466.70 L373.2 466.18 L373.8 466.18 L374.5 466.44 L375.2 466.70 L375.9 466.70 L376.7 466.96 L377.4 466.96 L378.1 466.96 L378.8 466.96 L379.6 466.18 L380.4 465.14 L381.1 465.66 L381.8 466.70 L382.5 467.22 L383.2 467.48 L383.9 467.48 L384.6 467.74 L385.3 467.74 L386.0 468.00 L386.7 468.26 L387.4 468.26 L388.1 468.26 L388.8 468.78 L389.5 468.26 L390.3 468.00 L391.0 468.00 L391.8 467.48 L392.5 467.48 L393.2 467.48 L393.9 467.74 L394.6 467.74 L395.4 467.74 L396.1 467.74 L396.8 467.74 L397.5 467.74 L398.3 467.74 L399.0 467.74 L399.8 467.74 L400.5 467.48 L401.3 467.48 L402.0 468.00 L402.8 468.52 L403.5 469.04 L404.3 469.30 L405.0 470.08 L405.6 469.82 L406.3 469.56 L406.9 469.30 L407.7 469.82 L408.5 470.60 L409.2 470.86 L409.8 469.56 L410.5 469.04 L411.2 468.78 L411.8 468.26 L412.5 468.00 L413.2 468.00 L413.9 467.22 L414.6 466.44 L415.2 465.92 L415.9 465.66 L416.6 465.14 L417.4 467.48 L418.1 469.30 L418.7 469.82 L419.4 470.60 L420.0 471.12 L420.7 471.64 L421.3 472.16 L422.0 472.16 L422.7 472.16 L423.4 472.42 L424.1 472.94 L424.8 473.20 L425.5 473.20 L426.2 473.20 L426.9 473.46 L427.5 473.20 L428.1 472.94 L428.8 472.68 L429.4 472.68 L430.1 472.68 L430.8 472.94 L431.5 473.46 L432.2 472.94 L432.9 472.68 L433.6 472.68 L434.3 472.68 L435.0 472.68 L435.8 472.42 L436.6 471.90 L437.3 471.38 L438.1 471.12 L438.8 471.12 L439.5 471.38 L440.2 471.12 L440.9 471.38 L441.6 471.38 L442.2 471.38 L442.9 471.38 L443.6 471.64 L444.3 471.38 L445.0 471.64 L445.7 471.90 L446.4 472.42 L447.1 472.68 L447.9 472.94 L448.6 473.20 L449.3 473.46 L450.0 473.98 L450.7 473.72 L451.4 474.24 L452.1 474.50 L452.9 474.50 L453.6 474.24 L454.3 474.24 L455.0 474.24 L455.7 474.24 L456.4 474.24 L457.1 473.98 L457.8 473.98 L458.5 474.24 L459.2 473.98 L459.9 473.98 L460.6 473.98 L461.3 473.72 L462.0 474.50 L462.7 475.28 L463.5 475.80 L464.2 476.32 L464.9 476.84 L465.6 477.36 L466.2 477.36 L466.9 477.10 L467.5 477.10 L468.2 477.10 L468.8 476.84 L469.5 476.58 L470.2 476.58 L470.9 476.58 L471.6 476.58 L472.2 476.32 L472.9 476.32 L473.6 476.58 L474.3 476.58 L475.0 476.58 L475.7 476.58 L476.4 476.58 L477.0 476.84 L477.7 476.84 L478.4 477.10 L479.1 477.10 L479.8 477.36 L480.5 477.36 L481.1 477.36 L481.8 477.62 L482.5 477.88 L483.2 477.10 L483.9 477.62 L484.6 477.36 L485.4 477.10 L486.1 477.10 L486.8 477.36 L487.5 477.36 L488.2 477.10 L488.9 477.10 L489.5 477.10 L490.2 477.10 L490.9 477.10 L491.6 477.10 L492.3 477.10 L493.0 477.10 L493.6 477.36 L494.3 477.36 L495.0 477.36 L495.6 477.36 L496.3 477.36 L496.9 477.36 L497.6 478.14 L498.4 478.92 L499.1 479.96 L499.8 480.48 L500.6 481.26 L501.3 482.30 L502.0 482.82 L502.7 483.60 L503.4 483.86 L504.2 484.64 L504.9 485.16 L505.6 485.68 L506.3 486.20 L507.0 486.72 L507.7 486.98 L508.4 487.50 L509.1 488.02 L509.7 488.28 L510.4 488.54 L511.1 489.06 L511.8 489.32 L512.5 489.58 L513.2 489.58 L513.9 489.84 L514.6 489.84 L515.3 489.84 L516.0 489.84 L516.7 490.10 L517.4 490.10 L518.1 490.10 L518.8 490.62 L519.5 490.62 L520.2 490.88 L520.9 491.14 L521.7 491.40 L522.4 491.66 L523.1 492.18 L523.8 492.44 L524.5 492.44 L525.2 492.70 L525.8 492.96 L526.5 492.70 L527.2 492.70 L527.9 492.96 L528.6 494.00 L529.3 493.22 L529.9 493.48 L530.6 493.48 L531.3 493.48 L532.0 493.74 L532.7 493.74 L533.4 493.74 L534.1 493.48 L534.7 493.74 L535.4 493.74 L536.1 494.26 L536.8 494.00 L537.5 494.00 L538.2 494.00 L538.9 494.00 L539.5 494.26 L540.2 494.52 L540.9 494.78 L541.6 494.78 L542.3 495.04 L543.0 495.04 L543.6 495.56 L544.3 495.56 L545.0 495.56 L545.7 496.08 L546.4 496.34 L547.1 496.60 L547.9 496.60 L548.6 496.86 L549.3 497.12 L550.0 497.38 L550.8 497.64 L551.5 497.90 L552.3 498.16 L553.0 498.68 L553.8 499.20 L554.5 498.68 L555.2 498.42 L555.9 498.42 L556.7 497.90 L557.4 497.90 L558.1 497.64 L558.8 497.38 L559.5 497.38 L560.2 497.38 L561.0 497.38 L561.7 497.12 L562.4 497.12 L563.1 496.86 L563.8 496.34 L564.6 495.82 L565.3 495.30 L566.0 494.78 L566.8 494.26 L567.5 493.74 L568.2 492.96 L568.9 492.18 L569.6 491.40 L570.4 490.88 L571.1 490.10 L571.8 489.32 L572.5 488.28 L573.2 487.50 L573.9 486.72 L574.6 485.68 L575.4 484.90 L576.1 484.38 L576.8 483.86 L577.5 482.82 L578.2 482.30 L578.8 482.04 L579.5 481.52 L580.0 481.26 L580.7 481.26 L581.3 481.26 L582.0 481.52 L582.9 481.78 L583.7 482.30 L584.5 481.00 L585.2 479.18 L586.0 477.62 L586.7 476.06 L587.4 476.06 L588.0 476.06 L588.7 476.58 L589.3 476.84 L590.0 476.58 L590.7 476.06 L591.3 475.28 L592.0 474.50 L592.6 473.72 L593.3 473.46 L594.0 473.20 L594.7 472.94 L595.3 472.68 L596.0 472.68 L596.7 472.42 L597.4 470.86 L598.0 469.56 L598.7 467.74 L599.3 466.44 L600.0 464.88 L600.7 463.32 L601.3 462.02 L602.0 460.20 L602.6 458.90 L603.3 457.60 L604.0 456.30 L604.7 456.04 L605.3 453.70 L606.0 452.14 L606.7 450.84 L607.5 450.84 L608.3 450.84 L609.3 452.40 L610.0 451.88 L610.6 451.10 L611.3 450.84 L612.0 449.28 L612.6 448.24 L613.3 446.94 L614.0 445.64 L614.7 445.90 L615.3 445.90 L616.0 445.90 L616.7 446.42 L617.4 446.94 L618.0 447.46 L618.7 447.98 L619.4 447.98 L620.0 448.24 L620.7 448.24 L621.4 448.50 L622.0 448.24 L622.7 448.24 L623.4 449.02 L624.0 449.54 L624.7 450.06 L625.4 451.10 L626.0 451.62 L626.7 452.14 L627.4 452.92 L628.0 453.18 L628.7 453.96 L629.4 454.22 L630.0 454.74 L630.7 455.26 L631.4 454.48 L632.0 453.70 L632.7 452.92 L633.4 452.40 L634.0 451.88 L634.6 451.36 L635.3 451.10 L636.0 451.62 L636.7 452.40 L637.4 452.66 L638.0 452.66 L638.7 452.66 L639.3 452.66 L640.0 452.66 L640.7 451.36 L641.4 449.80 L642.0 448.24 L642.7 446.94 L643.4 444.86 L644.0 443.30 L644.6 441.22 L645.3 439.14 L646.0 439.40 L646.8 439.66 L647.5 439.92 L648.3 440.18 L649.1 438.36 L650.0 436.54 L650.7 435.24 L651.3 433.68 L652.0 431.86 L652.7 431.08 L653.3 430.04 L654.0 428.48 L654.7 429.00 L655.4 429.26 L656.0 429.52 L656.7 429.78 L657.4 429.26 L658.0 429.26 L658.6 428.74 L659.3 427.96 L660.0 428.74 L660.6 429.26 L661.3 430.30 L662.0 430.82 L662.7 431.34 L663.3 431.86 L664.0 431.86 L664.6 432.38 L665.3 432.38 L666.1 431.60 L667.0 430.56 L667.9 431.60 L668.7 432.64 L669.4 432.12 L670.0 431.60 L670.6 431.08 L671.3 430.82 L672.1 426.92 L673.0 423.54 L673.7 422.50 L674.4 421.20 L675.2 422.24 L676.0 423.28 L676.7 424.84 L677.4 426.14 L678.0 427.70 L678.7 429.52 L679.4 431.08 L680.0 432.64 L680.6 434.20 L681.3 436.02 L682.0 436.80 L682.6 437.32 L683.3 438.10 L684.0 438.36 L684.7 439.66 L685.3 440.70 L686.0 441.74 L686.7 442.78 L687.4 443.30 L688.0 444.34 L688.7 445.38 L689.4 446.42 L690.0 447.46 L690.7 449.02 L691.4 449.80 L692.0 451.10 L692.7 452.40 L693.4 453.44 L694.0 454.48 L694.7 455.26 L695.3 456.56 L696.0 457.60 L696.7 458.38 L697.3 458.90 L698.0 459.42 L698.7 459.94 L699.3 460.72 L700.0 461.50 L700.7 462.02 L701.3 462.28 L702.0 462.80 L702.6 463.84 L703.3 464.36 L704.0 464.36 L704.6 464.36 L705.3 464.88 L706.0 464.88 L706.6 465.40 L707.3 465.40 L708.0 466.70 L708.6 468.00 L709.3 469.30 L710.0 470.08 L710.7 470.86 L711.4 471.38 L712.0 472.68 L712.7 472.94 L713.4 473.20 L714.0 473.72 L714.6 474.50 L715.3 475.02 L716.0 474.76 L716.6 475.02 L717.3 474.76 L718.0 475.28 L718.7 475.80 L719.3 476.32 L720.0 476.58" stroke="#008000" stroke-width="0.9"/>
</g>
<rect x="100" y="60" width="620" height="480" fill="none" stroke="#000" stroke-width="1.4"/>
<path d="M100 487.50 H107 M720 487.50 H715 M100 435.50 H107 M720 435.50 H715 M100 383.50 H107 M720 383.50 H715 M100 331.50 H107 M720 331.50 H715 M100 279.50 H107 M720 279.50 H715 M100 226.50 H107 M720 226.50 H715 M100 174.50 H107 M720 174.50 H715 M100 122.50 H107 M720 122.50 H715 M100 70.50 H107 M720 70.50 H715 M153.50 540 V535 M153.50 60 V67 M291.50 540 V535 M291.50 60 V67 M428.50 540 V535 M428.50 60 V67 M566.50 540 V535 M566.50 60 V67 M704.50 540 V535 M704.50 60 V67" stroke="#000" stroke-width="0.75" fill="none"/>
<g font-family="'DejaVu Sans', 'Liberation Sans', sans-serif" fill="#000">
<text x="258.14 271.48 283.19 298.59 309.38 320.18 335.92 341.99 354.25 360.01 372.51 385.39 398.27 417.75 424.36 436.34 448.40 467.65 480.10 492.17 500.15 512.17 519.77 532.21 540.19 552.26" y="44.75" font-size="20.00">APOLLO Plenum Temperatures</text>
<text x="85.91" y="544.00" font-size="16.67">5</text>
<text x="74.87 86.30" y="492.00" font-size="16.67">10</text>
<text x="75.07 86.35" y="440.00" font-size="16.67">15</text>
<text x="74.68 85.00" y="388.00" font-size="16.67">20</text>
<text x="74.68 85.55" y="336.00" font-size="16.67">25</text>
<text x="74.63 85.20" y="284.00" font-size="16.67">30</text>
<text x="74.68 85.45" y="231.00" font-size="16.67">35</text>
<text x="74.39 84.05" y="179.00" font-size="16.67">40</text>
<text x="74.54 84.55" y="127.00" font-size="16.67">45</text>
<text x="74.91 85.40" y="75.00" font-size="16.67">50</text>
<text x="129.17 140.20 151.23 157.27 168.30" y="556.00" font-size="16.67">15:00</text>
<text x="123.90 134.73 145.23 155.81 160.98 171.37" y="570.00" font-size="16.67">Sep 29</text>
<text x="267.78 278.41 289.03 294.67 305.30" y="556.00" font-size="16.67">23:00</text>
<text x="261.90 272.73 283.23 293.81 298.98 309.37" y="570.00" font-size="16.67">Sep 29</text>
<text x="404.60 415.52 426.45 432.38 443.30" y="556.00" font-size="16.67">07:00</text>
<text x="399.90 410.73 421.23 431.81 436.93 447.30" y="570.00" font-size="16.67">Sep 30</text>
<text x="543.17 554.20 565.23 571.27 582.30" y="556.00" font-size="16.67">15:00</text>
<text x="537.90 548.73 559.23 569.81 574.93 585.30" y="570.00" font-size="16.67">Sep 30</text>
<text x="680.78 691.41 702.03 707.67 718.30" y="556.00" font-size="16.67">23:00</text>
<text x="675.90 686.73 697.23 707.81 712.93 723.30" y="570.00" font-size="16.67">Sep 30</text>
<text x="362.46 375.56 386.04 392.83 403.09 407.77 414.26 427.18 441.55 451.73" y="592.00" font-size="16.67">Date (GMT)</text>
<text x="0.25 10.33 20.48 36.61 47.09 57.24 63.98 74.09 80.52 90.98 97.73 107.99 112.27 118.76 130.38" y="0.00" font-size="16.67" transform="translate(67.6 367.9) rotate(-90)">Temperature (C)</text>
<rect x="112.5" y="69.7" width="165.7" height="54.4" fill="#fff" stroke="#000" stroke-width="1.4"/>
<path d="M128 80.5 h32" stroke="#8b008b" stroke-width="0.7"/>
<path d="M128 98 h32" stroke="#ffa500" stroke-width="0.7"/>
<path d="M128 114.5 h32" stroke="#008000" stroke-width="0.7"/>
<text x="172.09 182.68 186.67 193.51 201.78 209.41 218.08 228.36 238.42" y="83.00" font-size="13.89">DI_PLENUM</text>
<text x="172.17 181.88 191.40 200.94 207.90 216.29 224.05 232.84 243.24 253.42" y="100.00" font-size="13.89">CAB_PLENUM</text>
<text x="172.04 183.14 192.05 205.99 214.54 219.09 228.91 233.09" y="117.50" font-size="13.89">Dome Air</text>
</g>
</svg>
</body></html>
